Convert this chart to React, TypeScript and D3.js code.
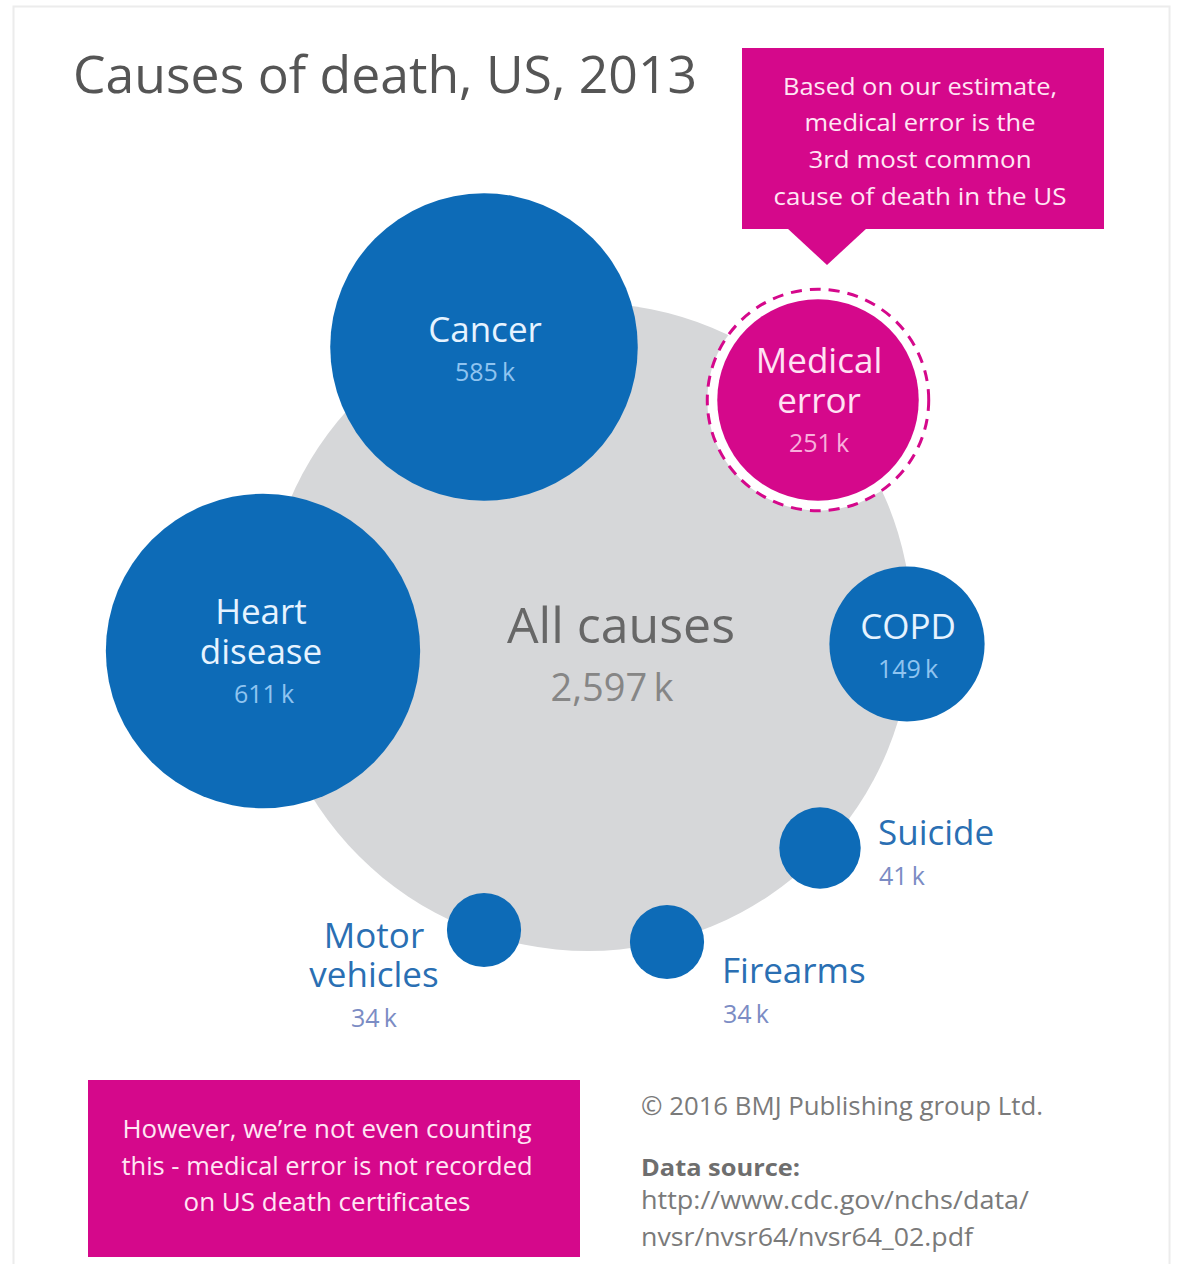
import React from "react";
import * as d3 from "d3";

// ---- data ----
const totalLabel = "All causes";
const totalDeaths = 2597; // thousands
const causes = ["Heart disease", "Cancer", "Medical error", "COPD", "Suicide", "Firearms", "Motor vehicles"];
const deaths = [611, 585, 251, 149, 41, 34, 34]; // thousands
const labelLines = [["Heart", "disease"], ["Cancer"], ["Medical", "error"], ["COPD"], ["Suicide"], ["Firearms"], ["Motor", "vehicles"]];
const highlighted = ["Medical error"];

const titleText = "Causes of death, US, 2013";
const calloutLines = ["Based on our estimate,", "medical error is the", "3rd most common", "cause of death in the US"];
const noteLines = ["However, we\u2019re not even counting", "this - medical error is not recorded", "on US death certificates"];
const copyrightText = "\u00A9 2016 BMJ Publishing group Ltd.";
const sourceTitle = "Data source:";
const sourceLines = ["http://www.cdc.gov/nchs/data/", "nvsr/nvsr64/nvsr64_02.pdf"];

// ---- layout (positions of bubble centres, hand-placed as in the original) ----
const totalCenter = { x: 588, y: 627 };
const bubbleCenters: Record<string, { x: number; y: number }> = {
  "Heart disease": { x: 263, y: 651 },
  Cancer: { x: 484, y: 347 },
  "Medical error": { x: 818, y: 400 },
  COPD: { x: 907, y: 644 },
  Suicide: { x: 820, y: 848 },
  Firearms: { x: 667, y: 942 },
  "Motor vehicles": { x: 484, y: 930 },
};
// label placement: "in" = inside, otherwise outside (anchor, dx, dy of first line)
const labelPlace: Record<string, { mode: string; x?: number; y?: number; anchor?: string }> = {
  "Heart disease": { mode: "in" },
  Cancer: { mode: "in" },
  "Medical error": { mode: "in" },
  COPD: { mode: "in" },
  Suicide: { mode: "out", x: 878, y: 831, anchor: "start" },
  Firearms: { mode: "out", x: 722, y: 969, anchor: "start" },
  "Motor vehicles": { mode: "out", x: 374, y: 934, anchor: "middle" },
};

const BLUE = "#0d6bb7";
const PINK = "#d5088b";
const GREY = "#d6d7d9";
const FONT = "'Open Sans', 'Noto Sans', sans-serif";

const rScale = d3.scaleSqrt().domain([0, totalDeaths]).range([0, 324]);
const fmt = d3.format(",");
const kLabel = (v: number) => `${fmt(v)}\u2009k`;

export default function App() {
  const W = 1182;
  const H = 1264;
  const rows = causes.map((c, i) => ({ name: c, value: deaths[i], lines: labelLines[i] }));
  const lineH = 40;

  return (
    <svg
      width={W}
      height={H}
      viewBox={`0 0 ${W} ${H}`}
      style={{ position: "absolute", left: 0, top: 0, background: "#fff" }}
      fontFamily={FONT}
    >
      <rect x={0} y={0} width={W} height={H} fill="#fff" />
      <rect x={13.5} y={6.5} width={1156} height={H} fill="#fff" stroke="#ececec" strokeWidth={2} />

      {/* title */}
      <text x={73} y={93} fontSize={52} fill="#555" textLength={624} lengthAdjust="spacingAndGlyphs">
        {titleText}
      </text>

      {/* all causes bubble */}
      <circle cx={totalCenter.x} cy={totalCenter.y} r={rScale(totalDeaths)} fill={GREY} />
      <text x={621} y={624} fontSize={50} fill="#676767" textAnchor="middle" dominantBaseline="central">
        {totalLabel}
      </text>
      <text x={612} y={686} fontSize={38} fill="#868686" textAnchor="middle" dominantBaseline="central">
        {kLabel(totalDeaths)}
      </text>

      {/* cause bubbles */}
      {rows.map((d) => {
        const c = bubbleCenters[d.name];
        const r = rScale(d.value);
        const hl = highlighted.includes(d.name);
        return (
          <g key={d.name}>
            {hl && (
              <>
                <circle cx={c.x} cy={c.y} r={r + 10} fill="#fff" />
                <circle
                  cx={c.x}
                  cy={c.y}
                  r={r + 10}
                  fill="none"
                  stroke={PINK}
                  strokeWidth={3}
                  strokeDasharray="11 8"
                />
              </>
            )}
            <circle cx={c.x} cy={c.y} r={r} fill={hl ? PINK : BLUE} />
          </g>
        );
      })}

      {/* labels */}
      {rows.map((d) => {
        const c = bubbleCenters[d.name];
        const p = labelPlace[d.name];
        const hl = highlighted.includes(d.name);
        if (p.mode === "in") {
          const n = d.lines.length;
          const y0 = c.y - 19 - ((n - 1) * lineH) / 2 - (n === 1 ? 0 : 2);
          return (
            <g key={d.name} textAnchor="middle">
              {d.lines.map((l, j) => (
                <text
                  key={l}
                  x={c.x + (d.name === "Heart disease" ? -2 : 1)}
                  y={y0 + j * lineH}
                  fontSize={35}
                  fill={hl ? "#ffe2f3" : "#e6f3ff"}
                  dominantBaseline="central"
                >
                  {l}
                </text>
              ))}
              <text
                x={c.x + 1}
                y={y0 + (n - 1) * lineH + 43}
                fontSize={25}
                fill={hl ? "#f8b0dc" : "#8fc4f0"}
                dominantBaseline="central"
              >
                {kLabel(d.value)}
              </text>
            </g>
          );
        }
        const n = d.lines.length;
        return (
          <g key={d.name} textAnchor={p.anchor}>
            {d.lines.map((l, j) => (
              <text
                key={l}
                x={p.x}
                y={(p.y as number) + j * 39}
                fontSize={35}
                fill="#2a6fb3"
                dominantBaseline="central"
              >
                {l}
              </text>
            ))}
            <text
              x={(p.x as number) + (p.anchor === "start" ? 1 : 0)}
              y={(p.y as number) + (n - 1) * 39 + 44}
              fontSize={25}
              fill="#7b8cc4"
              dominantBaseline="central"
            >
              {kLabel(d.value)}
            </text>
          </g>
        );
      })}

      {/* callout box */}
      <rect x={742} y={48} width={362} height={181} fill={PINK} />
      <path d="M787,228 L867,228 L827,265 Z" fill={PINK} />
      {calloutLines.map((l, i) => (
        <text
          key={l}
          x={920}
          y={85 + i * 36.7}
          fontSize={24}
          fill="#ffe6f4"
          textAnchor="middle"
          dominantBaseline="central"
          textLength={[274, 231, 223, 293][i]}
          lengthAdjust="spacingAndGlyphs"
        >
          {l}
        </text>
      ))}

      {/* bottom note */}
      <rect x={88} y={1080} width={492} height={177} fill={PINK} />
      {noteLines.map((l, i) => (
        <text
          key={l}
          x={327}
          y={1128 + i * 36.5}
          fontSize={25}
          fill="#ffe6f4"
          textAnchor="middle"
          dominantBaseline="central"
          textLength={[409, 411, 287][i]}
          lengthAdjust="spacingAndGlyphs"
        >
          {l}
        </text>
      ))}

      {/* credits */}
      <text x={641} y={1105} fontSize={25} fill="#7a7a7a" dominantBaseline="central" textLength={402} lengthAdjust="spacingAndGlyphs">
        {copyrightText}
      </text>
      <text x={641} y={1166} fontSize={24} fontWeight={700} fill="#6e6e6e" dominantBaseline="central" textLength={159} lengthAdjust="spacingAndGlyphs">
        {sourceTitle}
      </text>
      {sourceLines.map((l, i) => (
        <text
          key={l}
          x={641}
          y={1199 + i * 37}
          fontSize={25}
          fill="#7a7a7a"
          dominantBaseline="central"
          textLength={[388, 332][i]}
          lengthAdjust="spacingAndGlyphs"
        >
          {l}
        </text>
      ))}
    </svg>
  );
}
